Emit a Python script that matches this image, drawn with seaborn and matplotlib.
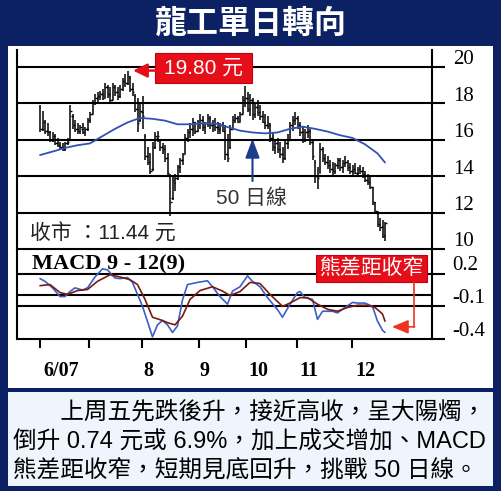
import matplotlib
matplotlib.use("Agg")
import matplotlib.pyplot as plt
from matplotlib.patches import Rectangle
from matplotlib.transforms import ScaledTranslation, blended_transform_factory
import numpy as np
import pandas as pd
import seaborn as sns

# ---------------- data ----------------
title = "龍工單日轉向"

highs = [17.9, 17.6, 17.1, 16.9, 16.5, 16.4, 16.3, 16.1, 15.9, 15.8,
         15.9, 16.1, 17.9, 17.4, 17.1, 16.9, 16.8, 16.9, 16.7, 17.2,
         17.5, 18.2, 18.5, 18.6, 18.7, 18.8, 19.1, 19.0, 18.9, 19.1,
         19.0, 18.9, 19.0, 19.4, 19.6, 19.8, 19.5, 19.1, 18.5, 18.3,
         18.0, 18.4, 16.3, 15.6, 15.3, 15.9, 16.4, 16.5, 16.0, 15.8,
         15.7, 15.3, 14.1, 14.0, 14.1, 14.6, 15.0, 15.3, 16.3, 16.6,
         16.9, 17.2, 17.0, 17.1, 17.4, 17.3, 17.0, 17.4, 17.3, 17.1,
         17.2, 17.0, 16.9, 17.0, 16.8, 16.3, 16.8, 17.3, 17.4, 17.3,
         17.5, 18.4, 18.95, 18.6, 18.5, 18.3, 18.0, 18.2, 17.9, 17.6,
         17.4, 17.3, 16.9, 16.4, 16.0, 16.1, 15.9, 15.6, 16.0, 16.3,
         17.0, 17.3, 17.5, 17.3, 17.0, 16.7, 16.6, 16.8, 16.6, 16.0,
         14.9, 14.5, 15.8, 15.6, 15.2, 15.1, 14.9, 14.8, 14.7, 15.0,
         15.0, 14.9, 15.1, 14.9, 14.7, 14.6, 14.7, 14.5, 14.6, 14.5,
         14.3, 14.1, 14.0, 13.4, 12.6, 12.1, 11.7, 11.6, 11.5]
lows = [16.4, 16.5, 16.3, 16.2, 15.9, 15.9, 15.7, 15.6, 15.5, 15.4,
        15.4, 15.7, 16.0, 16.6, 16.4, 16.3, 16.3, 16.3, 16.2, 16.5,
        16.9, 17.4, 17.9, 18.1, 18.2, 18.2, 18.3, 18.3, 18.1, 18.2,
        18.4, 18.2, 18.3, 18.7, 18.9, 19.0, 18.6, 18.4, 17.5, 16.4,
        17.0, 16.6, 14.9, 14.6, 14.1, 14.3, 15.5, 15.9, 15.4, 15.2,
        14.8, 14.0, 11.8, 12.7, 13.2, 13.8, 14.2, 14.6, 15.2, 15.9,
        16.1, 16.2, 16.3, 16.4, 16.6, 16.5, 16.3, 16.7, 16.6, 16.4,
        16.5, 16.3, 16.3, 16.4, 14.9, 14.8, 15.5, 16.6, 16.9, 16.9,
        17.0, 17.4, 17.8, 17.5, 17.3, 17.1, 17.2, 17.3, 17.1, 16.9,
        16.6, 16.6, 15.9, 15.4, 15.2, 15.3, 15.0, 14.7, 14.9, 15.5,
        16.0, 16.5, 16.8, 16.6, 16.2, 15.8, 15.9, 16.1, 15.7, 14.9,
        13.6, 13.3, 14.2, 14.8, 14.6, 14.4, 14.2, 14.0, 14.1, 14.4,
        14.3, 14.2, 14.5, 14.3, 14.1, 14.0, 14.1, 14.0, 14.1, 13.9,
        13.7, 13.5, 13.3, 12.4, 11.9, 11.2, 11.0, 10.6, 10.45]
opens = [17.8, 16.6, 17.0, 16.5, 16.4, 16.0, 16.2, 15.8, 15.7, 15.6,
         15.5, 15.8, 16.0, 17.3, 16.8, 16.6, 16.5, 16.6, 16.4, 16.6,
         17.1, 17.4, 18.0, 18.3, 18.4, 18.5, 18.3, 18.9, 18.5, 18.2,
         18.9, 18.6, 18.4, 18.8, 19.2, 19.1, 19.4, 18.8, 18.4, 17.7,
         17.1, 17.5, 16.2, 15.1, 14.8, 14.4, 15.6, 16.1, 16.0, 15.6,
         15.5, 15.0, 14.0, 12.8, 13.6, 13.9, 14.5, 14.9, 15.2, 16.1,
         16.4, 16.6, 17.0, 16.5, 16.9, 17.1, 16.7, 16.9, 17.2, 16.8,
         16.9, 16.7, 16.6, 16.8, 16.5, 15.2, 15.6, 16.6, 17.1, 17.2,
         17.0, 17.4, 18.2, 18.3, 17.7, 18.2, 17.4, 17.8, 17.5, 17.3,
         17.0, 16.8, 16.8, 16.1, 15.6, 15.8, 15.5, 15.2, 15.0, 15.8,
         16.0, 16.8, 17.1, 17.2, 16.8, 16.4, 16.0, 16.4, 16.5, 15.9,
         14.8, 14.0, 14.2, 15.5, 15.0, 14.8, 14.6, 14.4, 14.3, 14.6,
         14.9, 14.5, 14.7, 14.8, 14.5, 14.3, 14.4, 14.2, 14.4, 14.3,
         14.1, 13.8, 13.7, 13.4, 12.6, 12.0, 11.4, 11.2, 10.75]
closes = [16.6, 17.0, 16.5, 16.4, 16.0, 16.2, 15.8, 15.7, 15.6, 15.5,
          15.8, 15.9, 17.6, 16.8, 16.6, 16.5, 16.7, 16.4, 16.6, 17.1,
          17.4, 18.0, 18.3, 18.4, 18.5, 18.3, 18.9, 18.5, 18.2, 18.9,
          18.6, 18.4, 18.8, 19.2, 19.1, 19.5, 18.8, 18.6, 17.7, 16.9,
          17.6, 17.3, 15.1, 14.8, 14.3, 15.6, 16.2, 16.2, 15.6, 15.5,
          15.0, 14.2, 12.6, 13.8, 13.9, 14.5, 14.9, 15.2, 16.1, 16.4,
          16.6, 17.0, 16.5, 16.9, 17.1, 16.7, 16.9, 17.2, 16.8, 16.9,
          16.7, 16.6, 16.8, 16.5, 15.2, 15.0, 16.6, 17.1, 17.2, 17.0,
          17.4, 18.2, 18.3, 17.7, 18.2, 17.4, 17.8, 17.5, 17.3, 17.0,
          16.8, 16.9, 16.1, 15.6, 15.8, 15.5, 15.2, 15.0, 15.8, 16.0,
          16.8, 17.1, 17.2, 16.8, 16.4, 16.0, 16.4, 16.5, 15.9, 15.1,
          14.0, 13.9, 15.5, 15.0, 14.8, 14.6, 14.4, 14.3, 14.6, 14.9,
          14.5, 14.7, 14.8, 14.5, 14.3, 14.4, 14.2, 14.4, 14.3, 14.1,
          13.8, 13.7, 13.4, 12.6, 12.1, 11.4, 11.2, 10.70, 11.44]

ma_idx = [0, 5, 10, 15, 20, 25, 30, 35, 40, 45, 50, 55, 60, 65, 70,
          75, 80, 85, 90, 95, 100, 105, 110, 115, 120, 125, 130, 135, 138]
ma50 = [15.16, 15.35, 15.55, 15.7, 15.8, 16.2, 16.6, 16.95, 17.2, 17.15,
        17.05, 16.85, 16.85, 16.9, 16.9, 16.7, 16.5, 16.4, 16.35, 16.4,
        16.6, 16.72, 16.6, 16.45, 16.25, 16.1, 15.75, 15.25, 14.75]

dif_idx = [0, 2, 5, 8, 10, 12, 14, 17, 19, 22, 25, 27, 30, 32, 35, 37, 39,
           41, 43, 45, 47, 49, 51, 53, 55, 57, 59, 63, 67, 69, 72, 75, 77,
           80, 83, 85, 88, 91, 95, 97, 100, 103, 104, 106, 109, 111, 113,
           117, 119, 122, 125, 127, 130, 133, 135, 137, 138]
dif = [0.155, 0.13, 0.07, -0.01, -0.01, 0.036, 0.07, 0.05, 0.07, 0.17,
       0.245, 0.235, 0.16, 0.155, 0.165, 0.12, 0.01, -0.1, -0.24, -0.38,
       -0.27, -0.23, -0.27, -0.34, -0.28, -0.04, 0.1, 0.12, 0.135, 0.08,
       -0.01, -0.08, 0.04, 0.08, 0.18, 0.13, 0.08, -0.02, -0.13, -0.2,
       -0.08, 0.027, 0.036, -0.02, -0.036, -0.22, -0.145, -0.145, -0.16,
       -0.11, -0.064, -0.07, -0.07, -0.1, -0.236, -0.32, -0.34]

sig_idx = [0, 4, 8, 11, 15, 19, 23, 28, 32, 36, 39, 42, 45, 49, 51, 54, 57,
           60, 64, 69, 73, 76, 80, 84, 88, 92, 97, 100, 104, 107, 111, 115,
           119, 123, 127, 131, 134, 137, 138]
sig = [0.09, 0.1, 0.027, 0.01, 0.045, 0.055, 0.13, 0.19, 0.17, 0.145,
       0.1, -0.036, -0.2, -0.23, -0.25, -0.27, -0.19, -0.036, 0.045, 0.08,
       0.04, 0.0, 0.036, 0.12, 0.11, 0.01, -0.1, -0.07, -0.02, -0.02,
       -0.08, -0.127, -0.145, -0.11, -0.09, -0.09, -0.11, -0.17, -0.236]

price_ticks = [10, 12, 14, 16, 18, 20]
macd_ticks = [0.2, -0.1, -0.4]
macd_ticklabels = ["0.2", "-0.1", "-0.4"]
macd_grid = [0.2, 0.0, -0.1]
month_starts = [0, 19.6, 40.8, 63.6, 82.4, 102.8, 124.8]
month_label_pos = [8.4, 43.2, 65.6, 87.2, 107.6, 130.0]
month_labels = ["6/07", "8", "9", "10", "11", "12"]

caption_lines = [
    "\u3000\u3000上周五先跌後升，接近高收，呈大陽燭，",
    "倒升 0.74 元或 6.9%，加上成交增加、MACD",
    "熊差距收窄，短期見底回升，挑戰 50 日線。",
]

# ---------------- style ----------------
NAVY = "#0b2163"
CAPTION_BG = "#eef5fc"
RED = "#e60f19"
MA_BLUE = "#3052b2"
DIF_BLUE = "#3b5fc6"
SIG_RED = "#7a1a12"
ARROW_BLUE = "#1d3c8e"
SANS = ["Liberation Sans", "Noto Sans CJK TC", "DejaVu Sans"]
SERIF = ["Liberation Serif", "DejaVu Serif"]

sns.set_theme(style="white")
plt.rcParams["font.family"] = SANS

W, H = 501, 491
fig = plt.figure(figsize=(W / 100, H / 100), dpi=100)
fig.patch.set_facecolor(NAVY)

# page furniture in pixel coordinates
bg = fig.add_axes([0, 0, 1, 1])
bg.set_xlim(0, W)
bg.set_ylim(H, 0)
bg.axis("off")
bg.add_patch(Rectangle((8, 45.5), 485, 342.5, fc="white", ec="none"))
bg.add_patch(Rectangle((8, 391.5), 485, 94.5, fc=CAPTION_BG, ec="none"))
bg.text(250.5, 23.5, title, color="white", fontsize=23, fontweight="heavy",
        family=["Noto Sans CJK TC"], ha="center", va="center")


def px_axes(x0, y0, x1, y1):
    a = fig.add_axes([x0 / W, 1 - y1 / H, (x1 - x0) / W, (y1 - y0) / H])
    a.set_facecolor("none")
    return a


ax = px_axes(17, 50, 432, 249)
mx = px_axes(17, 249, 432, 339)

# ---------------- price panel ----------------
idx = np.arange(len(highs))
ax.vlines(idx, lows, highs, color="black", lw=1.1, zorder=3)
ax.hlines(opens, idx - 0.6, idx, color="black", lw=1.0, zorder=3)
ax.hlines(closes, idx, idx + 0.6, color="black", lw=1.0, zorder=3)

ma_df = pd.DataFrame({"day": ma_idx, "ma": ma50})
sns.lineplot(data=ma_df, x="day", y="ma", ax=ax, color=MA_BLUE, lw=1.3,
             legend=False, zorder=4)

for v in price_ticks:
    ax.axhline(v, color="black", lw=1.5, zorder=1, clip_on=False)

X_LIM = (-9.2, 156.8)
ax.set_xlim(*X_LIM)
ax.set_ylim(10, 20.93)
ax.set_xlabel("")
ax.set_ylabel("")
ax.set_xticks([])
ax.set_yticks(price_ticks)
ax.tick_params(axis="y", left=False, right=True, labelleft=False,
               labelright=False, direction="out", length=9.5, width=1.5,
               color="black")
for side in ["top", "bottom"]:
    ax.spines[side].set_visible(False)
for side in ["left", "right"]:
    ax.spines[side].set_color("black")
    ax.spines[side].set_linewidth(1.5)

yblend = blended_transform_factory(ax.transAxes, ax.transData)
for v in price_ticks:
    ax.text(1, v, f"{v}", transform=yblend + ScaledTranslation(0.21, 0.07, fig.dpi_scale_trans),
            ha="left", va="center", fontsize=15, family=SERIF, color="black")

# ---------------- MACD panel ----------------
dif_df = pd.DataFrame({"day": dif_idx, "v": dif})
sig_df = pd.DataFrame({"day": sig_idx, "v": sig})
sns.lineplot(data=dif_df, x="day", y="v", ax=mx, color=DIF_BLUE, lw=1.2,
             legend=False, zorder=4)
sns.lineplot(data=sig_df, x="day", y="v", ax=mx, color=SIG_RED, lw=1.2,
             legend=False, zorder=4)
for v in macd_grid:
    mx.axhline(v, color="black", lw=1.5, zorder=1)

mx.set_xlim(*X_LIM)
mx.set_ylim(-0.4, 0.427)
mx.set_xlabel("")
mx.set_ylabel("")
mx.set_yticks(macd_ticks)
mx.tick_params(axis="y", left=False, right=True, labelleft=False,
               labelright=False, direction="out", length=9.5, width=1.5,
               color="black")
mx.set_xticks(month_starts)
mx.tick_params(axis="x", bottom=True, labelbottom=False, direction="out",
               length=6.5, width=1.5, color="black")
mx.spines["top"].set_visible(False)
for side in ["left", "right", "bottom"]:
    mx.spines[side].set_color("black")
    mx.spines[side].set_linewidth(1.5)

mblend = blended_transform_factory(mx.transAxes, mx.transData)
for v, lab in zip(macd_ticks, macd_ticklabels):
    mx.text(1, v, lab, transform=mblend + ScaledTranslation(0.20, 0.08, fig.dpi_scale_trans),
            ha="left", va="center", fontsize=15, family=SERIF, color="black")

xblend = blended_transform_factory(mx.transData, mx.transAxes)
for p, lab in zip(month_label_pos, month_labels):
    mx.text(p, 0, lab, transform=xblend + ScaledTranslation(0, -0.32, fig.dpi_scale_trans),
            ha="center", va="center", fontsize=14.5, fontweight="bold",
            family=SERIF, color="black")


def to_bg(axes, point):
    return bg.transData.inverted().transform(axes.transData.transform(point))


# ---------------- annotations ----------------
# high-price call-out, drawn above the grid lines
peak_i = int(np.argmax(highs))
peak_v = highs[peak_i]
_, peak_y = to_bg(ax, (peak_i, peak_v))
ax.add_patch(Rectangle((155, 52.5), 97, 30, fc=RED, ec="#c00010", lw=0.8,
                       transform=bg.transData, clip_on=False, zorder=6))
ax.text(203.5, 68, f"{peak_v:.2f} 元", color="white", fontsize=15,
        ha="center", va="center", transform=bg.transData, zorder=7)
ax.annotate("", xy=(peak_i, peak_v), xycoords="data",
            xytext=(155, peak_y), textcoords=bg.transData,
            arrowprops=dict(arrowstyle="-|>,head_length=0.85,head_width=0.42",
                            color=RED, lw=1.8, shrinkA=0, shrinkB=4,
                            mutation_scale=10),
            annotation_clip=False, zorder=6)

# 50-day line call-out
ma_pt_i = 17
ma_x, _ = to_bg(ax, (ma_idx[ma_pt_i], ma50[ma_pt_i]))
ax.annotate("", xy=(ma_idx[ma_pt_i], ma50[ma_pt_i]), xycoords="data",
            xytext=(ma_x, 181), textcoords=bg.transData,
            arrowprops=dict(arrowstyle="-|>,head_length=1.15,head_width=0.43",
                            color=ARROW_BLUE, lw=1.5, shrinkA=0, shrinkB=4.5,
                            mutation_scale=10),
            annotation_clip=False)
bg.text(251, 198, "50 日線", color="#333333", fontsize=15, ha="center", va="center")

# closing price
bg.text(30, 234, f"收市 ：{closes[-1]:.2f} 元", color="#222222", fontsize=15,
        ha="left", va="center")

# MACD legend
bg.text(32, 264, "MACD 9 - 12(9)", color="black", fontsize=16, fontweight="bold",
        family=SERIF, ha="left", va="center")

# narrowing bearish gap call-out, drawn above the grid lines
mx.add_patch(Rectangle((316, 255), 111, 27, fc=RED, ec="#c00010", lw=0.8,
                       transform=bg.transData, clip_on=False, zorder=6))
mx.text(371.5, 268.5, "熊差距收窄", color="white", fontsize=15,
        family=["Noto Sans CJK TC"], ha="center", va="center",
        transform=bg.transData, zorder=7)
end_pt = (dif_idx[-1], (dif[-1] + sig[-1]) / 2)
_, end_y = to_bg(mx, end_pt)
mx.plot([414, 414], [282, end_y], color="#f0321e", lw=1.2,
        transform=bg.transData, clip_on=False, zorder=6)
mx.annotate("", xy=end_pt, xycoords="data",
            xytext=(414.6, end_y), textcoords=bg.transData,
            arrowprops=dict(arrowstyle="-|>,head_length=1.0,head_width=0.42",
                            color="#f0321e", lw=1.2, shrinkA=0, shrinkB=5,
                            mutation_scale=10),
            annotation_clip=False, zorder=6)

# ---------------- caption ----------------
for k, line in enumerate(caption_lines):
    bg.text(13, 412 + 29 * k, line, color="black", fontsize=17,
            ha="left", va="center")

fig.savefig("out.png", dpi=100, facecolor=fig.get_facecolor())
